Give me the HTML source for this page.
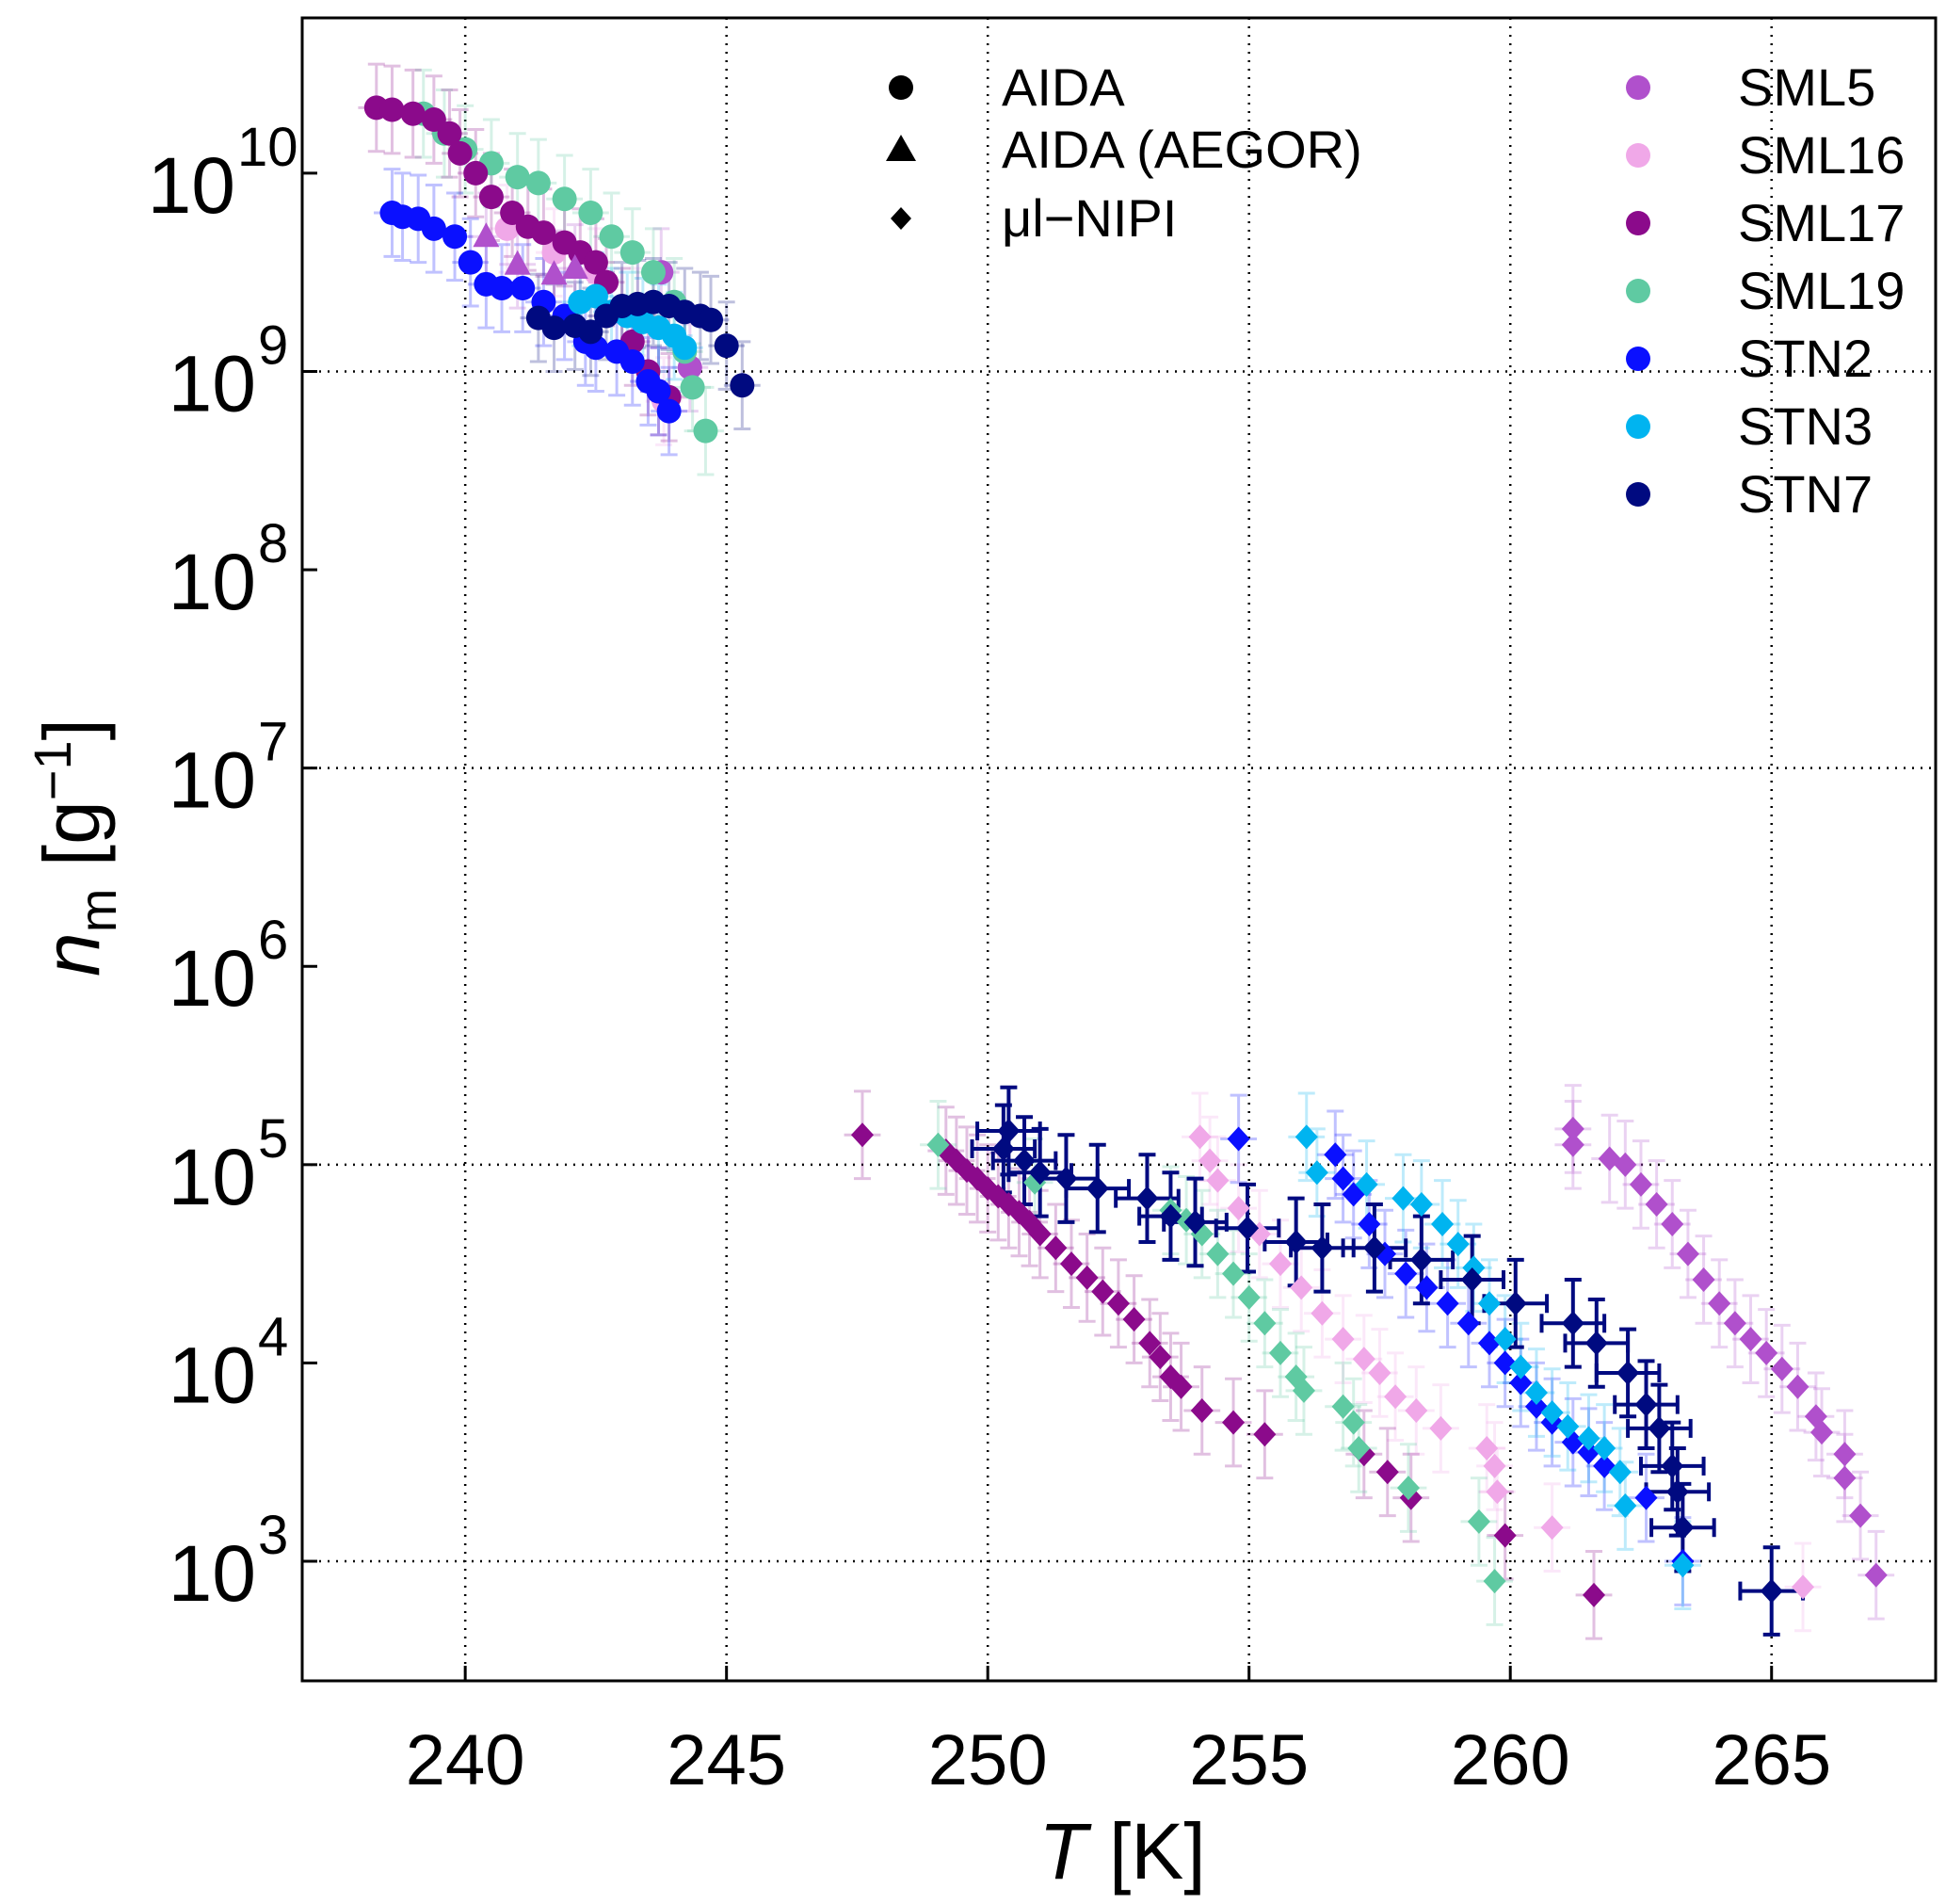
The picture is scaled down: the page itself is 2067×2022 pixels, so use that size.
<!DOCTYPE html>
<html><head><meta charset="utf-8"><style>
html,body{margin:0;padding:0;background:#fff}
svg{display:block;font-family:"Liberation Sans",sans-serif}
</style></head><body>
<svg id="chart" width="2067" height="2022" viewBox="0 0 2067 2022">
<g id="grid"></g>
<g id="errs"></g>
<g id="marks"></g>
<rect x="321" y="19" width="1735" height="1766" fill="none" stroke="#000" stroke-width="3"/>
<g id="axes"></g>
<text x="1192" y="1995" font-size="84" text-anchor="middle"><tspan font-style="italic">T</tspan> [K]</text>
<text transform="translate(105,900) rotate(-90)" font-size="84" text-anchor="middle"><tspan font-style="italic">n</tspan><tspan font-size="56" dy="18">m</tspan><tspan dy="-18"> [g</tspan><tspan font-size="56" dy="-30">−1</tspan><tspan dy="30">]</tspan></text>
<g id="legend"></g>
</svg>
<script>
const NS="http://www.w3.org/2000/svg";
const xTicks=[240,245,250,255,260,265];
const yTicks=[3,4,5,6,7,8,9,10];
const seriesNames=["SML5","SML16","SML17","SML19","STN2","STN3","STN7"];
const seriesColors=["#b050cc","#f0a8e8","#8b0a8b","#5fcaa2","#0a10ff","#00b4f0","#000a80"];
// AIDA circles: [T, log10(nm)]
const aidaSML5=[[243.75,9.5],[244.3,9.02]];
const aidaSML16=[[240.8,9.72],[241.7,9.6],[242.5,9.5],[243.3,9.3],[243.8,8.85]];
const aidaSML17=[[238.3,10.33],[238.6,10.32],[239.0,10.3],[239.4,10.27],[239.7,10.2],[239.9,10.1],[240.2,10.0],[240.5,9.88],[240.9,9.8],[241.2,9.73],[241.5,9.7],[241.9,9.65],[242.2,9.6],[242.5,9.55],[242.7,9.45],[243.0,9.3],[243.2,9.15],[243.5,9.0],[243.7,8.9],[243.9,8.87]];
const aidaSML19=[[239.2,10.3],[239.6,10.2],[240.0,10.12],[240.5,10.05],[241.0,9.98],[241.4,9.95],[241.9,9.87],[242.4,9.8],[242.8,9.68],[243.2,9.6],[243.6,9.5],[244.0,9.35],[244.2,9.1],[244.35,8.92],[244.6,8.7]];
const aidaSTN2=[[238.6,9.8],[238.8,9.78],[239.1,9.77],[239.4,9.72],[239.8,9.68],[240.1,9.55],[240.4,9.44],[240.7,9.42],[241.1,9.42],[241.5,9.35],[241.9,9.28],[242.3,9.15],[242.5,9.12],[242.9,9.1],[243.2,9.05],[243.5,8.95],[243.7,8.9],[243.9,8.8]];
const aidaSTN3=[[242.2,9.35],[242.5,9.38],[242.8,9.3],[243.1,9.28],[243.4,9.25],[243.7,9.22],[244.0,9.18],[244.2,9.12]];
const aidaSTN7=[[241.4,9.27],[241.7,9.22],[242.1,9.23],[242.4,9.2],[242.7,9.28],[243.0,9.33],[243.3,9.34],[243.6,9.35],[243.9,9.33],[244.2,9.3],[244.5,9.28],[244.7,9.26],[245.0,9.13],[245.3,8.93]];
// AIDA (AEGOR) triangles
const aegorSML5=[[240.4,9.68],[241.0,9.54],[241.7,9.49],[242.1,9.52]];
// uL-NIPI diamonds
const nipiSML5=[[261.2,5.18],[261.2,5.1],[261.9,5.03],[262.2,5.0],[262.5,4.9],[262.8,4.8],[263.1,4.7],[263.4,4.55],[263.7,4.42],[264.0,4.3],[264.3,4.2],[264.6,4.12],[264.9,4.05],[265.2,3.97],[265.5,3.88],[265.85,3.73],[265.96,3.65],[266.4,3.54],[266.4,3.42],[266.7,3.23],[267.0,2.93]];
const nipiSML16=[[254.06,5.14],[254.25,5.02],[254.4,4.92],[254.8,4.78],[255.2,4.65],[255.6,4.5],[256.0,4.38],[256.4,4.25],[256.8,4.12],[257.2,4.02],[257.5,3.95],[257.8,3.83],[258.2,3.76],[258.67,3.67],[259.55,3.57],[259.7,3.48],[259.75,3.35],[260.8,3.17],[265.6,2.87]];
const nipiSML17=[[247.6,5.15],[249.2,5.07],[249.4,5.02],[249.6,4.97],[249.8,4.93],[250.0,4.88],[250.2,4.84],[250.4,4.8],[250.6,4.76],[250.8,4.71],[251.0,4.65],[251.3,4.58],[251.6,4.5],[251.9,4.43],[252.2,4.36],[252.5,4.3],[252.8,4.22],[253.1,4.1],[253.3,4.03],[253.5,3.93],[253.7,3.88],[254.1,3.76],[254.7,3.7],[255.3,3.64],[257.2,3.54],[257.65,3.45],[258.1,3.32],[259.9,3.13],[261.6,2.83]];
const nipiSML19=[[249.05,5.1],[250.9,4.91],[253.5,4.77],[253.8,4.72],[254.1,4.65],[254.4,4.55],[254.7,4.45],[255.0,4.33],[255.3,4.2],[255.6,4.05],[255.9,3.93],[256.05,3.86],[256.8,3.78],[257.0,3.7],[257.1,3.57],[258.05,3.37],[259.4,3.2],[259.7,2.9]];
const nipiSTN2=[[254.8,5.13],[256.65,5.05],[256.8,4.93],[257.0,4.85],[257.3,4.7],[257.6,4.55],[258.0,4.45],[258.4,4.38],[258.8,4.3],[259.2,4.2],[259.6,4.1],[259.9,4.0],[260.2,3.9],[260.5,3.78],[260.8,3.7],[261.2,3.6],[261.5,3.55],[261.8,3.48],[262.6,3.32],[263.3,3.0]];
const nipiSTN3=[[256.1,5.14],[256.3,4.96],[257.25,4.9],[257.95,4.83],[258.3,4.8],[258.7,4.7],[259.0,4.6],[259.3,4.48],[259.6,4.3],[259.9,4.12],[260.2,3.98],[260.5,3.85],[260.8,3.75],[261.1,3.68],[261.5,3.62],[261.8,3.57],[262.1,3.45],[262.2,3.28],[263.3,2.98]];
const nipiSTN7=[[250.4,5.17],[250.3,5.08],[250.7,5.02],[251.0,4.96],[251.5,4.93],[252.1,4.88],[253.05,4.83],[253.5,4.74],[253.97,4.71],[254.97,4.68],[255.9,4.61],[256.4,4.58],[257.4,4.58],[258.3,4.52],[259.27,4.42],[260.1,4.3],[261.2,4.2],[261.65,4.1],[262.25,3.95],[262.6,3.79],[262.85,3.67],[263.1,3.48],[263.2,3.35],[263.3,3.17],[265.0,2.85]];

const X0=321,X1=2056,Y0=19,Y1=1785,TMIN=236.88,TMAX=268.14,LMIN=2.397,LMAX=10.783;
function sx(t){return X0+(t-TMIN)/(TMAX-TMIN)*(X1-X0);}
function sy(l){return Y1-(l-LMIN)/(LMAX-LMIN)*(Y1-Y0);}
function mk(tag,attrs,parent){const e=document.createElementNS(NS,tag);for(const k in attrs)e.setAttribute(k,attrs[k]);parent.appendChild(e);return e;}
const grid=document.getElementById('grid'),axes=document.getElementById('axes');
xTicks.forEach(t=>{
  const l=mk('line',{x1:sx(t),x2:sx(t),y1:Y0,y2:Y1,stroke:'#000','stroke-width':2.5,'stroke-dasharray':'2 7'},grid);
  
  
  const tk=mk('line',{x1:sx(t),x2:sx(t),y1:Y1,y2:Y1-16,stroke:'#000','stroke-width':3},axes);
  
  
  const tx=mk('text',{x:sx(t),y:1895,'font-size':76,'text-anchor':'middle'},axes);
  tx.textContent=t;
  
  
});
yTicks.forEach(v=>{
  if(v%2===1){
    const l=mk('line',{x1:X0,x2:X1,y1:sy(v),y2:sy(v),stroke:'#000','stroke-width':2.5,'stroke-dasharray':'2 7'},grid);
    
    
  }
  const tk=mk('line',{x1:X0,x2:X0+16,y1:sy(v),y2:sy(v),stroke:'#000','stroke-width':3},axes);
  
  
  const tx=mk('text',{x:v>=10?250:272,y:sy(v)+42,'font-size':84,'text-anchor':'end'},axes);
  tx.textContent='10';
  
  
  const sup=mk('text',{x:v>=10?252:274,y:sy(v)-8,'font-size':58,'text-anchor':'start'},axes);
  sup.textContent=String(v);
  
  
});
const errs=document.getElementById('errs'),marks=document.getElementById('marks');
function err(p,col,strong){
  const x=sx(p[0]),y=sy(p[1]);
  const dyU=sy(p[1]+0.22)-y,dyD=sy(p[1]-0.22)-y,dx=sx(p[0]+(strong?0.6:0.35))-x;
  const g=mk('g',{stroke:col,'stroke-width':strong?4:3,opacity:strong?1:0.25},errs);
  
  
  mk('line',{x1:x,x2:x,y1:y+dyU,y2:y+dyD},g);
  mk('line',{x1:x-dx,x2:x+dx,y1:y,y2:y},g);
  mk('line',{x1:x-9,x2:x+9,y1:y+dyU,y2:y+dyU},g);
  mk('line',{x1:x-9,x2:x+9,y1:y+dyD,y2:y+dyD},g);
  if(strong){mk('line',{x1:x-dx,x2:x-dx,y1:y-10,y2:y+10},g);mk('line',{x1:x+dx,x2:x+dx,y1:y-10,y2:y+10},g);}
}
function circle(p,col,name){err(p,col,false);const c=mk('circle',{cx:sx(p[0]),cy:sy(p[1]),r:13,fill:col},marks);}
function tri(p,col,name){err(p,col,false);const x=sx(p[0]),y=sy(p[1]);const c=mk('polygon',{points:`${x},${y-15} ${x-14},${y+11} ${x+14},${y+11}`,fill:col},marks);}
function dia(p,col,name,strong){err(p,col,strong);const x=sx(p[0]),y=sy(p[1]);const c=mk('polygon',{points:`${x},${y-13} ${x+12},${y} ${x},${y+13} ${x-12},${y}`,fill:col},marks);}
const C=seriesColors;
[[aidaSML16,1],[aidaSML5,0],[aidaSML19,3],[aidaSML17,2],[aidaSTN2,4],[aidaSTN3,5],[aidaSTN7,6]].forEach(([arr,i])=>arr.forEach(p=>circle(p,C[i],'aida-'+seriesNames[i].toLowerCase()+'-point')));
aegorSML5.forEach(p=>tri(p,C[0],'aegor-sml5-point'));
[[nipiSML5,0],[nipiSML16,1],[nipiSML17,2],[nipiSML19,3],[nipiSTN2,4],[nipiSTN3,5],[nipiSTN7,6]].forEach(([arr,i])=>arr.forEach(p=>dia(p,C[i],'nipi-'+seriesNames[i].toLowerCase()+'-point',i===6)));
// legend
const lg=document.getElementById('legend');
const typeLabels=["AIDA","AIDA (AEGOR)","μl−NIPI"];
const typeY=[93,159,232];
typeLabels.forEach((s,i)=>{
  const y=typeY[i];let m;
  if(i===0)m=mk('circle',{cx:957,cy:y,r:13,fill:'#000'},lg);
  else if(i===1)m=mk('polygon',{points:`957,${y-16} 941,${y+12} 973,${y+12}`,fill:'#000'},lg);
  else m=mk('polygon',{points:`957,${y-12} 968,${y} 957,${y+12} 946,${y}`,fill:'#000'},lg);
  
  
  const t=mk('text',{x:1064,y:y+19,'font-size':56},lg);t.textContent=s;
  
  
});
seriesNames.forEach((s,i)=>{
  const y=93+i*72;
  const m=mk('circle',{cx:1740,cy:y,r:13,fill:C[i]},lg);
  
  
  const t=mk('text',{x:1846,y:y+19,'font-size':56},lg);t.textContent=s;
  
  
});
</script>
</body></html>
